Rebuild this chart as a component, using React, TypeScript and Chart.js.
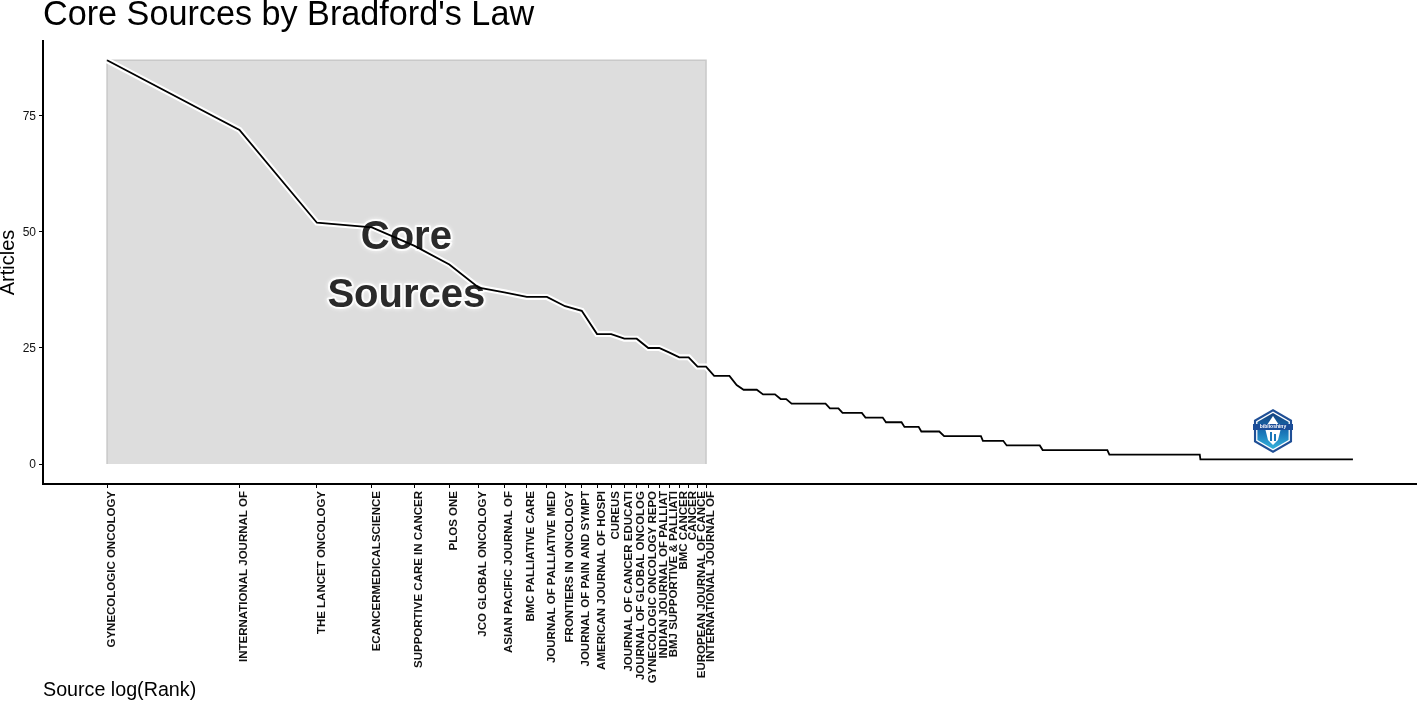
import React, { useEffect, useRef } from "react";
import { Chart, registerables } from "chart.js";

Chart.register(...registerables);

const titleText = "Core Sources by Bradford's Law";
const yTitle = "Articles";
const xTitle = "Source log(Rank)";
const FONT = "'Liberation Sans', Arial, sans-serif";

const coreSources = [
  "GYNECOLOGIC ONCOLOGY",
  "INTERNATIONAL JOURNAL OF",
  "THE LANCET ONCOLOGY",
  "ECANCERMEDICALSCIENCE",
  "SUPPORTIVE CARE IN CANCER",
  "PLOS ONE",
  "JCO GLOBAL ONCOLOGY",
  "ASIAN PACIFIC JOURNAL OF",
  "BMC PALLIATIVE CARE",
  "JOURNAL OF PALLIATIVE MED",
  "FRONTIERS IN ONCOLOGY",
  "JOURNAL OF PAIN AND SYMPT",
  "AMERICAN JOURNAL OF HOSPI",
  "CUREUS",
  "JOURNAL OF CANCER EDUCATI",
  "JOURNAL OF GLOBAL ONCOLOG",
  "GYNECOLOGIC ONCOLOGY REPO",
  "INDIAN JOURNAL OF PALLIAT",
  "BMJ SUPPORTIVE & PALLIATI",
  "BMC CANCER",
  "CANCER",
  "EUROPEAN JOURNAL OF CANCE",
  "INTERNATIONAL JOURNAL OF",
];

const ranks = [
  1, 2, 3, 4, 5, 6, 7, 8, 9, 10, 11, 12, 13, 14, 15, 16, 17, 18, 19, 20, 21, 22, 23,
  24, 26, 27, 28, 30, 31, 33, 34, 35, 36, 43, 44, 46, 47, 52, 53, 58, 59, 64, 65, 70,
  71, 78, 80, 97, 98, 109, 111, 132, 134, 188, 190, 305, 306, 680,
];
const articles = [
  87, 72, 52, 51, 47, 43, 38, 37, 36, 36, 34, 33, 28, 28, 27, 27, 25, 25, 24, 23, 23, 21, 21,
  19, 19, 17, 16, 16, 15, 15, 14, 14, 13, 13, 12, 12, 11, 11, 10, 10, 9, 9, 8, 8,
  7, 7, 6, 6, 5, 5, 4, 4, 3, 3, 2, 2, 1, 1,
];

const coreBoxRanks = [1, 1, 23, 23];
const coreBoxValues = [0, 87, 87, 0];
const yTickValues = [0, 25, 50, 75];

const coreLabelLines = ["Core", "Sources"];
const coreLabelRank = [4.79, 4.79];
const coreLabelValue = [48.8, 36.2];

const xRange = [0.715, 951];
const yRange = [-4.31, 91.16];

const coreLabelPlugin = {
  id: "coreLabel",
  afterDatasetDraw(chart: any, args: any) {
    if (args.index !== 1) return;
    const { ctx, scales } = chart;
    ctx.save();
    ctx.font = `bold 40px ${FONT}`;
    ctx.textAlign = "center";
    ctx.textBaseline = "middle";
    ctx.lineJoin = "round";
    coreLabelLines.forEach((line, i) => {
      const x = scales.x.getPixelForValue(coreLabelRank[i]);
      const y = scales.y.getPixelForValue(coreLabelValue[i]);
      ctx.strokeStyle = "rgba(255,255,255,0.85)";
      ctx.lineWidth = 4;
      ctx.shadowColor = "rgba(255,255,255,0.9)";
      ctx.shadowBlur = 4;
      ctx.strokeText(line, x, y);
      ctx.shadowBlur = 0;
      ctx.fillStyle = "#2a2a2a";
      ctx.fillText(line, x, y);
    });
    ctx.restore();
  },
};

const logoPlugin = {
  id: "logo",
  afterDraw(chart: any) {
    const { ctx } = chart;
    const cx = 1273;
    const cy = 431;
    const hex = (r: number) => {
      ctx.beginPath();
      for (let i = 0; i < 6; i++) {
        const a = (Math.PI / 3) * i - Math.PI / 2;
        const px = cx + r * Math.cos(a);
        const py = cy + r * Math.sin(a);
        if (i === 0) ctx.moveTo(px, py);
        else ctx.lineTo(px, py);
      }
      ctx.closePath();
    };
    ctx.save();
    hex(22);
    ctx.fillStyle = "#1f4f96";
    ctx.fill();
    hex(19.5);
    ctx.fillStyle = "#ffffff";
    ctx.fill();
    hex(18);
    const g = ctx.createLinearGradient(0, cy - 18, 0, cy + 18);
    g.addColorStop(0, "#14427f");
    g.addColorStop(0.55, "#1a76b8");
    g.addColorStop(1, "#35b4dc");
    ctx.fillStyle = g;
    ctx.fill();
    ctx.fillStyle = "#ffffff";
    ctx.beginPath();
    ctx.moveTo(cx, cy - 15);
    ctx.lineTo(cx + 8, cy - 3);
    ctx.lineTo(cx + 5, cy + 9);
    ctx.lineTo(cx, cy + 14);
    ctx.lineTo(cx - 5, cy + 9);
    ctx.lineTo(cx - 8, cy - 3);
    ctx.closePath();
    ctx.fill();
    ctx.fillStyle = "#1b4d98";
    ctx.fillRect(cx - 20, cy - 7, 40, 6);
    ctx.fillStyle = "#1a76b8";
    ctx.fillRect(cx - 3, cy + 1, 2, 9);
    ctx.fillRect(cx + 1, cy + 3, 2, 7);
    ctx.fillStyle = "#ffffff";
    ctx.font = `bold 5px ${FONT}`;
    ctx.textAlign = "center";
    ctx.textBaseline = "middle";
    ctx.fillText("biblioshiny", cx, cy - 4);
    ctx.restore();
  },
};

export default function App() {
  const ref = useRef<HTMLCanvasElement | null>(null);

  useEffect(() => {
    const makeCurve = () => ranks.map((r, i) => ({ x: r, y: articles[i] }));
    const chart = new Chart(ref.current as HTMLCanvasElement, {
      type: "scatter",
      data: {
        datasets: [
          {
            label: "Articles",
            data: makeCurve(),
            showLine: true,
            borderColor: "#000000",
            borderWidth: 1.8,
            pointRadius: 0,
            tension: 0,
          },
          {
            label: "Halo",
            data: makeCurve(),
            showLine: true,
            borderColor: "#ffffff",
            borderWidth: 6,
            pointRadius: 0,
            tension: 0,
          },
          {
            label: "Core Sources",
            data: coreBoxRanks.map((r, i) => ({ x: r, y: coreBoxValues[i] })),
            showLine: true,
            borderColor: "#c9c9c9",
            borderWidth: 1.5,
            backgroundColor: "#dddddd",
            fill: { value: 0 },
            pointRadius: 0,
            tension: 0,
          },
        ],
      },
      options: {
        responsive: false,
        animation: false,
        layout: { padding: 0 },
        plugins: {
          legend: { display: false },
          tooltip: { enabled: false },
          title: {
            display: true,
            text: titleText,
            align: "start",
            fullSize: false,
            color: "#000000",
            font: { family: FONT, size: 34.2, weight: "normal", lineHeight: 1.2 },
            padding: { top: -4.5, bottom: 4.46 },
          },
        },
        scales: {
          x: {
            type: "logarithmic",
            bounds: "data",
            min: xRange[0],
            max: xRange[1],
            border: { color: "#000000", width: 2 },
            grid: { display: true, drawOnChartArea: false, drawTicks: true, tickLength: 4, color: "#000000" },
            afterBuildTicks: (s: any) => {
              s.ticks = coreSources.map((_, i) => ({ value: i + 1 }));
            },
            afterFit: (s: any) => {
              s.height = 218;
            },
            ticks: {
              autoSkip: false,
              minRotation: 90,
              maxRotation: 90,
              padding: 3,
              labelOffset: 4.5,
              color: "#111111",
              font: { family: FONT, size: 11.5, weight: "bold" },
              callback: (v: any) => coreSources[Math.round(Number(v)) - 1],
            },
            title: {
              display: true,
              text: xTitle,
              align: "start",
              color: "#000000",
              font: { family: FONT, size: 19.7, weight: "normal" },
              padding: 0,
            },
          },
          y: {
            min: yRange[0],
            max: yRange[1],
            border: { color: "#000000", width: 2 },
            grid: { display: true, drawOnChartArea: false, drawTicks: true, tickLength: 4, color: "#000000" },
            afterBuildTicks: (s: any) => {
              s.ticks = yTickValues.map((value) => ({ value }));
            },
            afterFit: (s: any) => {
              s.width = 43;
            },
            ticks: {
              padding: 3,
              labelOffset: 1,
              color: "#111111",
              font: { family: FONT, size: 12 },
            },
            title: {
              display: true,
              text: yTitle,
              color: "#000000",
              font: { family: FONT, size: 20, weight: "normal" },
              padding: { top: -4, bottom: 0 },
            },
          },
        },
      },
      plugins: [coreLabelPlugin, logoPlugin],
    } as any);
    return () => chart.destroy();
  }, []);

  return (
    <div style={{ position: "absolute", left: 0, top: 0, width: 1417, height: 702 }}>
      <canvas ref={ref} width={1417} height={702} style={{ display: "block" }} />
    </div>
  );
}
